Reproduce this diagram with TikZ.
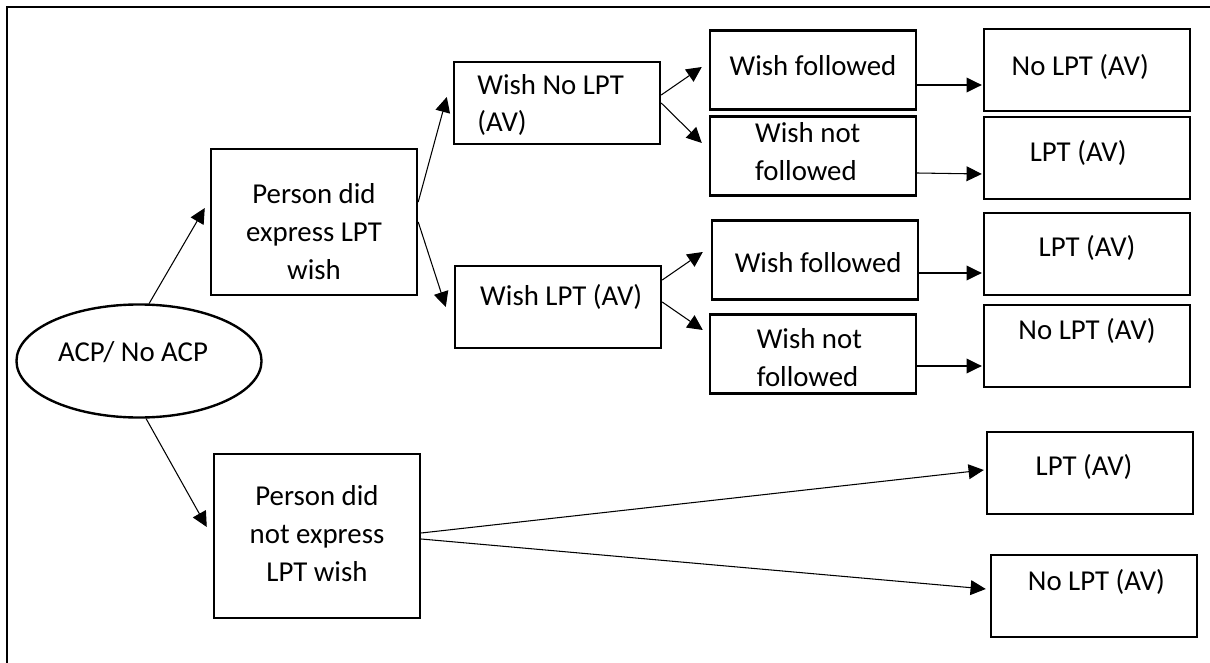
\documentclass[tikz,border=0pt]{standalone}
\usepackage{fontspec}
\setmainfont{Carlito}
\usepackage{tikz}
\usetikzlibrary{shapes.geometric,arrows.meta}
\tikzset{
  bx/.style={draw, line width=1.7pt, minimum width=5.15cm, minimum height=2.05cm, inner sep=0pt},
  ov/.style={draw, ellipse, line width=1.7pt, minimum width=6.125cm, minimum height=2.825cm, inner sep=0pt},
  tx/.style={align=center, inner sep=0pt},
  txl/.style={align=left, inner sep=0pt},
  edgeto/.style={black, line width=0.75pt, -{Triangle[length=0.38cm, width=0.37cm]}},
  frm/.style={line width=1.8pt}
}
\begin{document}
\begin{tikzpicture}[x=0.025cm, y=-0.025cm, font=\fontsize{20.5}{27}\selectfont]
\useasboundingbox (0,0) rectangle (1210,663);
\draw[frm] (1210,7) -- (7,7) -- (7,663);
\node[ov, label={[tx, xshift=-0.15cm, yshift=0.22cm]center:ACP/ No ACP}] (acp) at (139,361) {};
\node[bx, minimum height=3.65cm, label={[tx, yshift=-0.25cm]center:Person did\\express LPT\\wish}] (exp) at (314,222) {};
\node[bx, minimum height=4.1cm, label={[tx, yshift=0.05cm]center:Person did\\not express\\LPT wish}] (noexp) at (317,536) {};
\node[bx, label={[txl, xshift=-0.16cm, yshift=-0.05cm]center:Wish No LPT\\(AV)}] (wno) at (557,103) {};
\node[bx, label={[tx, xshift=0.08cm, yshift=0.25cm]center:Wish LPT (AV)}] (wyes) at (558,307) {};
\node[bx, minimum height=1.97cm, label={[tx, yshift=0.12cm]center:Wish followed}] (f1) at (813,70) {};
\node[bx, minimum height=1.97cm, label={[txl, xshift=-0.13cm, yshift=0.1cm]center:Wish not\\followed}] (nf1) at (813,156) {};
\node[bx, minimum height=1.97cm, label={[tx, xshift=0.08cm, yshift=-0.06cm]center:Wish followed}] (f2) at (815,260) {};
\node[bx, minimum height=1.97cm, label={[txl, xshift=-0.09cm, yshift=-0.08cm]center:Wish not\\followed}] (nf2) at (813,354) {};
\node[bx, label={[tx, xshift=-0.17cm, yshift=0.08cm]center:No LPT (AV)}] (r1) at (1087,70) {};
\node[bx, label={[tx, xshift=-0.22cm, yshift=0.12cm]center:LPT (AV)}] (r2) at (1087,158) {};
\node[bx, label={[tx, yshift=0.15cm]center:LPT (AV)}] (r3) at (1087,254) {};
\node[bx, label={[tx, yshift=0.38cm]center:No LPT (AV)}] (r4) at (1087,346) {};
\node[bx, label={[tx, xshift=-0.15cm, yshift=0.15cm]center:LPT (AV)}] (r5) at (1090,473) {};
\node[bx, label={[tx, xshift=0.06cm, yshift=0.35cm]center:No LPT (AV)}] (r6) at (1094,596) {};
\draw[edgeto] (acp.80) -- ([shift={(-5,-14)}]exp.west);
\draw[edgeto] (acp.-83) -- ([shift={(-6,-9)}]noexp.west);
\draw[edgeto] ([shift={(0,-20)}]exp.east) -- ([shift={(-6,-6)}]wno.west);
\draw[edgeto] (exp.east) -- ([shift={(-8,0)}]wyes.west);
\draw[edgeto] ([shift={(0,-8)}]wno.east) -- ([shift={(-7,-3)}]f1.west);
\draw[edgeto] (wno.east) -- ([shift={(-7,-13)}]nf1.west);
\draw[edgeto] ([shift={(0,-27)}]wyes.east) -- ([shift={(-8,-8)}]f2.west);
\draw[edgeto] ([shift={(0,-5)}]wyes.east) -- ([shift={(-6,-24)}]nf2.west);
\draw[edgeto] ([shift={(0,15)}]f1.east) -- ([shift={(-1,15)}]r1.west);
\draw[edgeto] ([shift={(0,17)}]nf1.east) -- ([shift={(-1,16)}]r2.west);
\draw[edgeto] ([shift={(0,13)}]f2.east) -- ([shift={(-1,19)}]r3.west);
\draw[edgeto] ([shift={(0,12)}]nf2.east) -- ([shift={(-1,20)}]r4.west);
\draw[edgeto] ([shift={(0,-3)}]noexp.east) -- ([shift={(-2,-3)}]r5.west);
\draw[edgeto] ([shift={(0,3)}]noexp.east) -- ([shift={(-4,-7)}]r6.west);
\end{tikzpicture}
\end{document}
